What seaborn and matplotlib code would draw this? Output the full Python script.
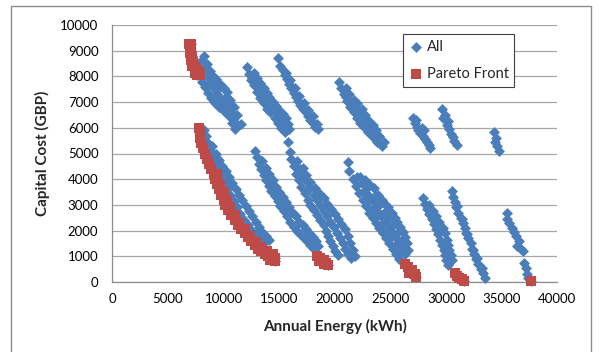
import matplotlib
matplotlib.use("Agg")
import matplotlib.pyplot as plt
import pandas as pd
import seaborn as sns
from matplotlib.patches import Rectangle

# (annual energy kWh, capital cost GBP), one list per cluster
upper_1 = [(7800, 8300), (7900, 8000), (8100, 7800), (8300, 7600), (8600, 7350), (8900, 7150),
           (9200, 6950), (9600, 6800), (10000, 6650), (10500, 6450), (10800, 6200), (11000, 5950),
           (8000, 8600), (8300, 8300), (8500, 8000), (8800, 7800), (9100, 7550), (9400, 7300),
           (9700, 7150), (10000, 7000), (10300, 6800), (10600, 6600), (10900, 6400), (11300, 6100),
           (8200, 8800), (8500, 8500), (8800, 8200), (9000, 8050), (9300, 7900), (9700, 7700),
           (10000, 7550), (10300, 7400), (10600, 7100), (10900, 6800), (11200, 6500), (11600, 6150),
           (9500, 7500), (10200, 7200), (10700, 6850), (9000, 7650), (8600, 8100)]
upper_2 = [(12100, 8350), (12300, 8100), (12500, 7850), (12700, 7650), (13000, 7400), (13300, 7150),
           (13600, 6950), (13900, 6750), (14200, 6600), (14600, 6400), (14900, 6200), (15200, 6000),
           (15500, 5850), (12700, 8150), (13000, 7950), (13300, 7750), (13600, 7550), (13900, 7350),
           (14100, 7200), (14400, 7000), (14700, 6850), (15000, 6700), (15300, 6550), (15600, 6400),
           (15800, 6150), (15900, 5950), (12600, 7950), (13200, 7500), (13700, 7200), (14200, 6900),
           (14800, 6550), (15300, 6250), (12900, 7700), (13500, 7350), (14000, 7050), (14500, 6750),
           (15100, 6400), (15600, 6100)]
upper_3 = [(14900, 8700), (15100, 8400), (15300, 8250), (15500, 8050), (15700, 7900), (15900, 7700),
           (16100, 7550), (16300, 7350), (16500, 7200), (16700, 7050), (16900, 6900), (17100, 6750),
           (17400, 6600), (17600, 6450), (17800, 6300), (18000, 6200), (18200, 6050), (18500, 5950),
           (15600, 8150), (16000, 7850), (16400, 7550), (16800, 7250), (17200, 6950), (17600, 6700),
           (18000, 6450), (18400, 6150)]
upper_4 = [(20400, 7800), (20600, 7550), (20800, 7300), (21100, 7050), (21400, 6800), (21700, 6600),
           (22000, 6400), (22300, 6200), (22650, 6050), (23000, 5850), (23400, 5650), (23800, 5450),
           (24200, 5300), (21000, 7550), (21300, 7300), (21700, 7100), (22000, 6950), (22400, 6750),
           (22700, 6500), (23000, 6300), (23400, 6100), (23700, 5900), (24000, 5700), (24400, 5450),
           (21000, 7200), (21500, 6900), (22000, 6650), (22500, 6400), (23000, 6100), (23500, 5800),
           (21300, 7050), (21800, 6800), (22300, 6500), (22800, 6250), (23300, 5950), (23900, 5650)]
upper_5 = [(27000, 6400), (27200, 6200), (27400, 6050), (27500, 5900), (27700, 5800), (27900, 5700),
           (28000, 5900), (28100, 5550), (28300, 5450), (28500, 5350), (28600, 5200), (27800, 6000),
           (27300, 6300)]
upper_6 = [(29600, 6750), (29700, 6400), (30100, 6100), (30400, 5750), (30700, 5500), (31000, 5350),
           (29900, 6500), (30300, 5950), (30600, 5650), (30200, 6250)]
upper_7 = [(34300, 5850), (34400, 5450), (34600, 5300), (34800, 5100), (34500, 5600)]

lower_1 = [(8200, 5900), (8400, 5700), (8600, 5400), (8800, 5150), (9000, 4900), (9300, 4650),
           (9500, 4400), (9800, 4150), (10100, 3900), (10400, 3650), (10600, 3400), (10900, 3150),
           (11200, 2900), (11500, 2650), (11800, 2400), (12200, 2200), (12600, 2000), (13000, 1850),
           (13400, 1700), (13800, 1600), (9000, 5300), (9300, 5000), (9600, 4750), (9900, 4500),
           (10200, 4300), (10500, 4100), (10800, 3850), (11100, 3600), (11400, 3400), (11700, 3200),
           (12000, 2950), (12300, 2750), (12600, 2550), (12900, 2350), (13200, 2150), (13500, 1950),
           (13800, 1800), (14100, 1650)]
lower_2 = [(12800, 5100), (13000, 4850), (13200, 4600), (13400, 4400), (13600, 4150), (13800, 3950),
           (14100, 3750), (14300, 3550), (14600, 3350), (14900, 3150), (15100, 2950), (15400, 2750),
           (15700, 2550), (16000, 2350), (16300, 2150), (16600, 2000), (16900, 1850), (17200, 1700),
           (17500, 1600), (17800, 1450), (18100, 1300), (13500, 4700), (13800, 4450), (14100, 4200),
           (14400, 3950), (14700, 3700), (15000, 3500), (15300, 3300), (15600, 3100), (15900, 2900),
           (16200, 2700), (16500, 2550), (16800, 2350), (17100, 2200), (17400, 2050), (17700, 1900),
           (18000, 1750), (18300, 1600), (18500, 1400)]
lower_3 = [(15800, 5450), (16000, 5050), (16100, 4800), (16300, 4500), (16500, 4200), (16800, 3950),
           (17000, 3700), (17300, 3450), (17600, 3200), (17800, 3000), (18100, 2800), (18400, 2600),
           (18700, 2400), (19000, 2200), (19200, 2000), (19400, 1800), (19600, 1600), (19800, 1400),
           (20000, 1200), (20300, 1050), (16600, 4700), (16900, 4400), (17200, 4150), (17500, 3900),
           (17800, 3650), (18100, 3400), (18400, 3200), (18700, 3000), (19000, 2750), (19300, 2550),
           (19600, 2350), (19900, 2150), (20200, 1900), (20500, 1700), (20700, 1500), (20900, 1300),
           (21200, 1100), (21500, 950), (17100, 4450), (17400, 4150), (17800, 3900), (18200, 3650),
           (18600, 3450), (19000, 3250), (19300, 3050), (19700, 2850), (20000, 2650), (20300, 2450),
           (20600, 2250), (20900, 2050), (21200, 1800), (21400, 1500), (21600, 1250), (21800, 1000)]
lower_4 = [(21200, 4650), (21300, 4300), (21600, 4000), (21900, 3750), (22200, 3450), (22500, 3200),
           (22800, 2950), (23100, 2700), (23400, 2500), (23700, 2300), (24000, 2100), (24300, 1900),
           (24600, 1700), (24900, 1500), (25200, 1300), (25500, 1100), (25800, 900), (22000, 4100),
           (22400, 3850), (22800, 3600), (23100, 3350), (23400, 3150), (23700, 2900), (24000, 2700),
           (24300, 2500), (24600, 2300), (24900, 2100), (25200, 1900), (25500, 1700), (25800, 1500),
           (26100, 1300), (26300, 1100), (22300, 4100), (22700, 3950), (23100, 3800), (23500, 3650),
           (23900, 3400), (24200, 3200), (24500, 3050), (24800, 2900), (25100, 2700), (25400, 2500),
           (25600, 2350), (25900, 2150), (26100, 1950), (26300, 1750), (26500, 1500), (26600, 1250),
           (22600, 3500), (23000, 3150), (23400, 2850), (23800, 2550), (24200, 2250), (24600, 1950),
           (25000, 1700), (25400, 1400), (25800, 1200), (23600, 3350), (24000, 3000), (24400, 2700),
           (24800, 2450), (25200, 2200), (25600, 1900), (26000, 1650)]
lower_5 = [(27900, 3250), (28100, 3050), (28300, 2850), (28500, 2650), (28700, 2450), (28900, 2250),
           (29100, 2050), (29300, 1850), (29500, 1650), (29600, 1450), (29800, 1250), (29900, 1050),
           (30000, 850), (30200, 650), (28500, 3000), (28800, 2750), (29100, 2550), (29400, 2350),
           (29700, 2100), (29900, 1900), (30100, 1650), (30200, 1450), (30300, 1250), (30400, 1050),
           (30500, 850)]
lower_6 = [(30500, 3550), (30600, 3300), (30800, 3100), (30900, 2900), (31100, 2700), (31300, 2500),
           (31500, 2300), (31700, 2100), (31800, 1900), (32000, 1700), (32200, 1500), (32300, 1300),
           (32500, 1100), (32700, 900), (32900, 700), (33100, 500), (33300, 350), (33500, 150),
           (31000, 2950), (31400, 2450), (31900, 1850), (32400, 1250), (32800, 950), (33200, 550)]
lower_7 = [(35500, 2700), (35500, 2450), (35700, 2300), (35900, 2100), (36100, 1950), (36300, 1800),
           (36600, 1600), (36400, 1400), (36700, 1300), (36900, 1200), (37000, 750), (37200, 550),
           (37300, 300), (37400, 150)]

pareto_top = [(6900, 9250), (7100, 9250), (6950, 9100), (7100, 9000), (7000, 8900), (7150, 8800),
              (7100, 8650), (7250, 8550), (7200, 8400), (7400, 8350), (7600, 8250), (7400, 8150),
              (7600, 8050), (7900, 8050), (7800, 8200)]
pareto_low = [(7800, 6000), (7850, 5800), (7900, 5600), (8000, 5400), (8150, 5200), (8300, 5000),
              (8500, 4800), (8700, 4600), (8900, 4400), (9100, 4200), (9250, 4000), (9400, 3800),
              (9600, 3600), (9800, 3400), (10000, 3200), (10150, 3000), (10400, 2800), (10700, 2600),
              (11000, 2400), (11300, 2200), (11600, 2050), (11900, 1900), (12200, 1750), (12500, 1600),
              (12800, 1450), (13100, 1300), (13400, 1200), (13700, 1100), (14000, 1000), (14300, 950),
              (14600, 950), (14600, 800), (14200, 850), (9400, 4200), (9700, 3800), (10000, 3500),
              (10300, 3200), (10600, 2900), (11000, 2600), (11400, 2300), (11900, 2050), (12400, 1800),
              (12900, 1550), (13400, 1350), (13900, 1200), (14400, 1100)]
pareto_tail = [(18400, 1000), (18700, 950), (19000, 850), (19200, 750), (19400, 650), (18600, 800),
               (19000, 700), (26300, 700), (26600, 600), (26900, 450), (27200, 300), (27300, 200),
               (26700, 350), (30800, 350), (31000, 250), (31200, 150), (31400, 100), (31600, 50),
               (37600, 50)]

all_clusters = [upper_1, upper_2, upper_3, upper_4, upper_5, upper_6, upper_7,
                lower_1, lower_2, lower_3, lower_4, lower_5, lower_6, lower_7]
pareto_clusters = [pareto_top, pareto_low, pareto_tail]

BLUE = "#4A7EBB"
RED = "#BE4B48"
GREY = "#8C8C8C"

sns.set_style("white")
plt.rcParams["font.family"] = ["Lato", "DejaVu Sans"]


def to_frame(clusters):
    rows = [pt for cluster in clusters for pt in cluster]
    return pd.DataFrame(rows, columns=["energy", "cost"])


all_df = to_frame(all_clusters + pareto_clusters)
pareto_df = to_frame(pareto_clusters)

fig = plt.figure(figsize=(5.99, 3.52), dpi=100)
ax = fig.add_axes([112.3 / 599, 1 - 282 / 352, 445 / 599, 257 / 352])

sns.scatterplot(data=all_df, x="energy", y="cost", marker="D", s=31, color=BLUE,
                linewidth=0, ax=ax, label="All", clip_on=False, zorder=3)
sns.scatterplot(data=pareto_df, x="energy", y="cost", marker="s", s=60, color=RED,
                linewidth=0, ax=ax, label="Pareto Front", clip_on=False, zorder=4)

ax.set_xlim(0, 40000)
ax.set_ylim(0, 10000)
ax.set_xticks(range(0, 40001, 5000))
ax.set_yticks(range(0, 10001, 1000))
ax.yaxis.grid(True, color="#A6A6A6", linewidth=0.9)
ax.xaxis.grid(False)
ax.set_axisbelow(True)

for side in ["top", "right"]:
    ax.spines[side].set_visible(False)
for side in ["left", "bottom"]:
    ax.spines[side].set_color(GREY)
    ax.spines[side].set_linewidth(0.9)

ax.tick_params(axis="both", direction="out", length=4, width=0.9, color=GREY,
               labelsize=9.5, labelcolor="black")
ax.tick_params(axis="y", pad=6)
ax.tick_params(axis="x", pad=4)

ax.set_xlabel("Annual Energy (kWh)", fontsize=11, fontweight="bold")
ax.set_ylabel("Capital Cost (GBP)", fontsize=11, fontweight="bold")
ax.xaxis.set_label_coords(0.5, -0.145)
ax.yaxis.set_label_coords(-0.14, 0.5)

legend = ax.legend(loc="upper left", bbox_to_anchor=(0.654, 0.964), frameon=True,
                   fancybox=False, edgecolor="#404040", framealpha=1, fontsize=10.5,
                   handlelength=0.9, handletextpad=0.3, labelspacing=0.9,
                   borderpad=0.4, borderaxespad=0, scatterpoints=1)
legend.get_frame().set_linewidth(0.8)

fig.patches.append(Rectangle((11 / 599, -0.05), 580 / 599, 1.05 - 6 / 352,
                             transform=fig.transFigure, fill=False,
                             edgecolor=GREY, linewidth=1))

fig.savefig("out.png", dpi=100)
